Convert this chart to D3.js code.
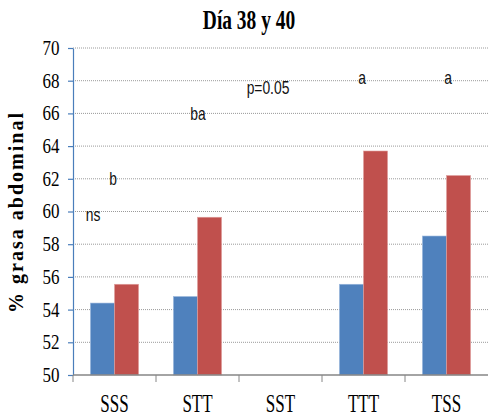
<!DOCTYPE html>
<html>
<head>
<meta charset="utf-8">
<script src="https://cdn.jsdelivr.net/npm/d3@7/dist/d3.min.js"></script>
<style>
  html, body { margin: 0; padding: 0; background: #fff; }
  svg { display: block; }
</style>
</head>
<body>
<svg id="chart" width="488" height="418"></svg>
<script>
// Abdominal fat percentage by treatment group, day 38 and day 40
const categories = ["SSS", "STT", "SST", "TTT", "TSS"];
const seriesNames = ["Día 38", "Día 40"];
const day38 = [54.4, 54.8, null, 55.55, 58.5];
const day40 = [55.55, 59.65, null, 63.7, 62.2];
const yTicks = [50, 52, 54, 56, 58, 60, 62, 64, 66, 68, 70];

// significance letters shown above the groups
const noteText = ["ns", "b", "ba", "p=0.05", "a", "a"];
const noteCategory = ["SSS", "SSS", "STT", "SST", "TTT", "TSS"];
const noteLevel = [59.4, 61.6, 65.6, 67.2, 67.8, 67.8];

const colors = ["#4f81bd", "#c0504d"];
const edgeColors = ["#9bb7dd", "#e0a09e"];

const svg = d3.select("#chart");
const plotLeft = 73, plotRight = 488, plotTop = 48, plotBottom = 375;

const x = d3.scaleBand().domain(categories).range([plotLeft, plotRight])
  .paddingInner(0.42).paddingOuter(0.21);
const xs = d3.scaleBand().domain(seriesNames).range([0, x.bandwidth()]);
const y = d3.scaleLinear().domain([50, 70]).range([plotBottom, plotTop]);

// dotted horizontal gridlines
svg.append("g").selectAll("line")
  .data(yTicks.filter(d => d > 50))
  .join("line")
  .attr("x1", plotLeft).attr("x2", plotRight)
  .attr("y1", d => y(d)).attr("y2", d => y(d))
  .attr("stroke", "#9a9a9a")
  .attr("stroke-width", 1)
  .attr("stroke-dasharray", "1,1");

// bars
const rows = categories.map((c, i) => ({ c, vals: [day38[i], day40[i]] }));
const groups = svg.append("g").selectAll("g")
  .data(rows).join("g")
  .attr("transform", d => `translate(${x(d.c)},0)`);
groups.selectAll("rect")
  .data(d => d.vals.map((v, k) => ({ v, k })).filter(e => e.v != null))
  .join("rect")
  .attr("x", d => xs(seriesNames[d.k]))
  .attr("width", xs.bandwidth())
  .attr("y", d => y(d.v))
  .attr("height", d => plotBottom - y(d.v))
  .attr("fill", d => colors[d.k])
  .attr("stroke", d => edgeColors[d.k])
  .attr("stroke-width", 0.6);

// y axis
const yAxis = svg.append("g")
  .attr("transform", `translate(${plotLeft},0)`)
  .call(d3.axisLeft(y).tickValues(yTicks).tickSize(5).tickSizeOuter(0).tickPadding(0));
yAxis.select(".domain").attr("stroke", "#4a7ebb").attr("stroke-width", 1.2);
yAxis.selectAll(".tick line").attr("stroke", "#4a7ebb").attr("stroke-width", 1.2);
yAxis.selectAll(".tick text")
  .attr("x", null)
  .attr("transform", "translate(-13.5,0) scale(0.85,1)")
  .attr("font-family", "'Liberation Serif', 'Times New Roman', serif")
  .attr("font-size", 20)
  .attr("fill", "#000");

// x axis: baseline, boundary ticks and centred labels
const xAxis = svg.append("g");
xAxis.append("line")
  .attr("x1", plotLeft).attr("x2", plotRight)
  .attr("y1", plotBottom).attr("y2", plotBottom)
  .attr("stroke", "#868686").attr("stroke-width", 1.3);
xAxis.selectAll("line.bound")
  .data(d3.range(categories.length))
  .join("line")
  .attr("class", "bound")
  .attr("x1", i => plotLeft + i * x.step()).attr("x2", i => plotLeft + i * x.step())
  .attr("y1", plotBottom).attr("y2", plotBottom + 7)
  .attr("stroke", "#868686").attr("stroke-width", 1);
xAxis.selectAll("text")
  .data(categories)
  .join("text")
  .attr("transform", d => `translate(${x(d) + x.bandwidth() / 2},411.5) scale(0.68,1)`)
  .attr("text-anchor", "middle")
  .attr("font-family", "'Liberation Serif', 'Times New Roman', serif")
  .attr("font-size", 25)
  .attr("fill", "#000")
  .text(d => d);

// significance notes
const noteShift = [-21.5, -1.5, 0.5, -12.5, -1.5, 1.5];
svg.append("g").selectAll("text")
  .data(noteText)
  .join("text")
  .attr("transform", (d, i) =>
    `translate(${x(noteCategory[i]) + x.bandwidth() / 2 + noteShift[i]},${y(noteLevel[i])}) scale(0.77,1)`)
  .attr("text-anchor", "middle")
  .attr("font-family", "'Liberation Sans', Arial, sans-serif")
  .attr("font-size", 18)
  .attr("fill", "#111")
  .text(d => d);

// title
svg.append("text")
  .attr("transform", "translate(249,29) scale(0.72,1)")
  .attr("text-anchor", "middle")
  .attr("font-family", "'Liberation Serif', 'Times New Roman', serif")
  .attr("font-weight", "bold")
  .attr("font-size", 27)
  .attr("fill", "#000")
  .text("Día 38 y 40");

// y axis title
svg.append("text")
  .attr("transform", "translate(23,213) rotate(-90)")
  .attr("text-anchor", "middle")
  .attr("font-family", "'Liberation Serif', 'Times New Roman', serif")
  .attr("font-weight", "bold")
  .attr("font-size", 20)
  .attr("textLength", 200)
  .attr("lengthAdjust", "spacing")
  .attr("fill", "#000")
  .text("% grasa abdominal");
</script>
</body>
</html>
